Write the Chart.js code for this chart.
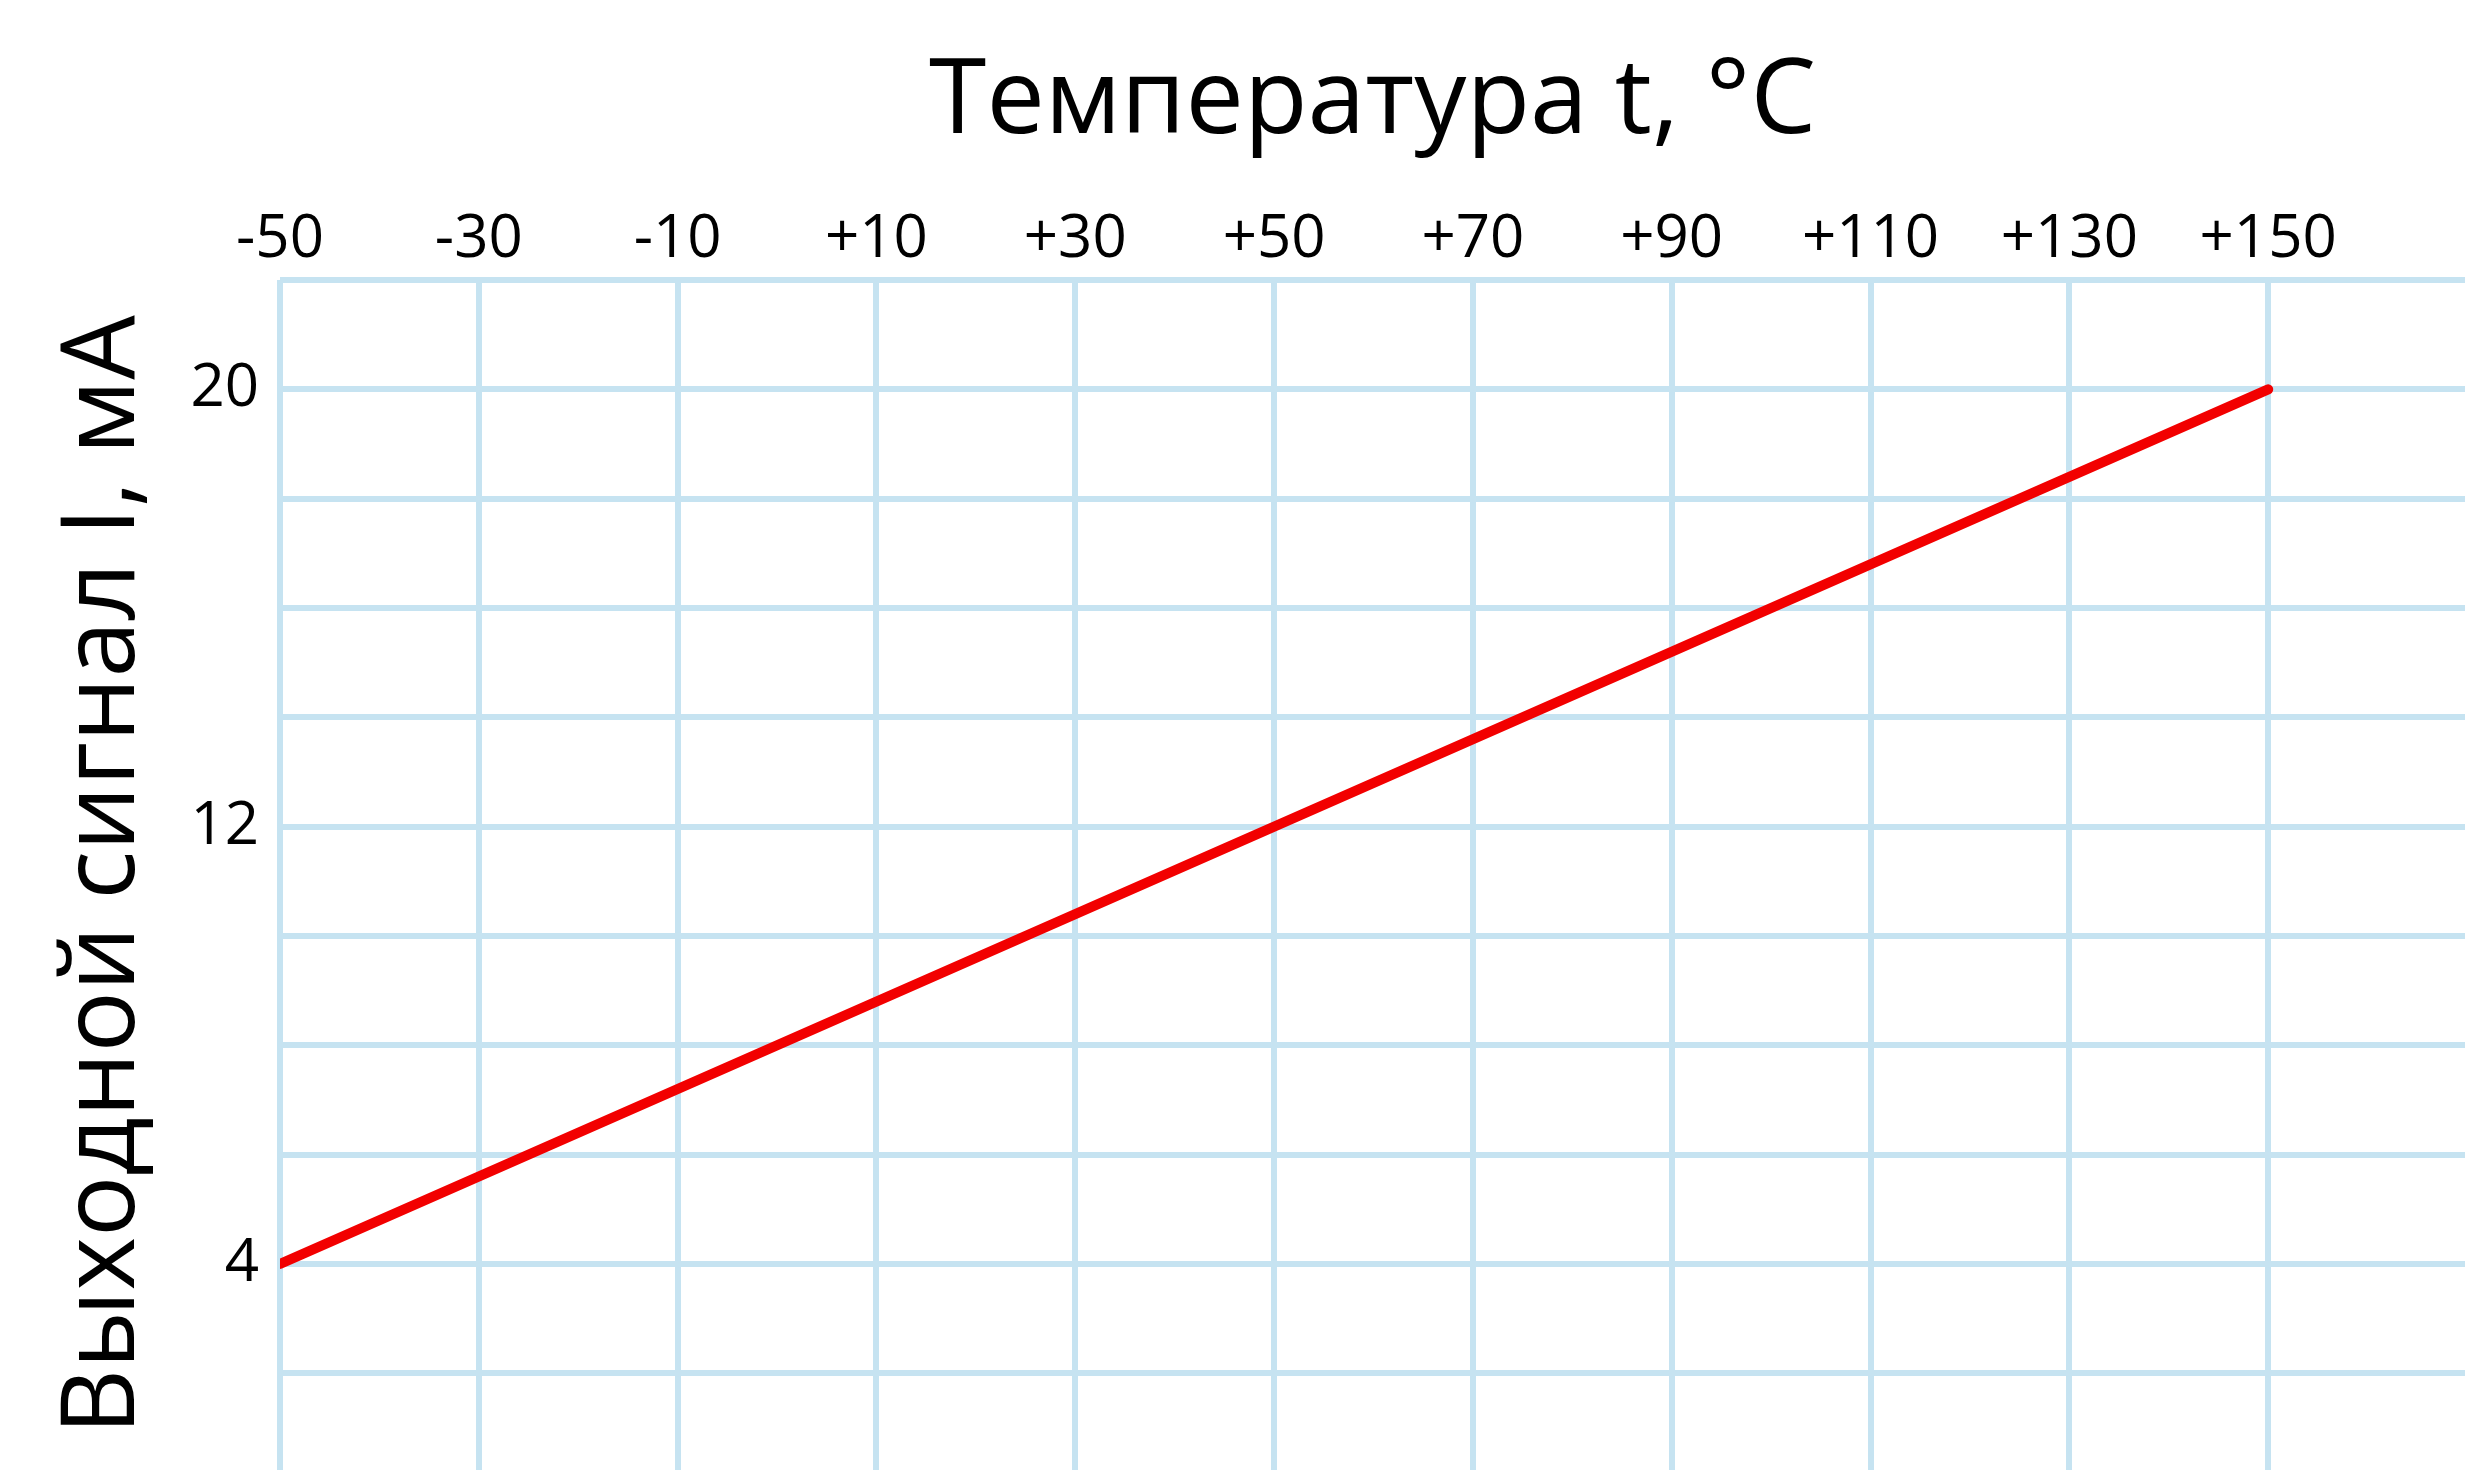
<!DOCTYPE html>
<html>
<head>
<meta charset="utf-8">
<script src="https://cdn.jsdelivr.net/npm/chart.js@4/dist/chart.umd.min.js"></script>
<style>
  html, body { margin: 0; padding: 0; background: #fff; }
  canvas { display: block; }
</style>
</head>
<body>
<canvas id="chart" width="2465" height="1470"></canvas>
<script>
// данные графика
const temperature = [-50, 150];
const current = [4, 20];
const xGrid = [-50, -30, -10, 10, 30, 50, 70, 90, 110, 130, 150];
const yGrid = [2, 4, 6, 8, 10, 12, 14, 16, 18, 20, 22];
const yLabels = [4, 12, 20];

const gridColor = '#c6e3f1';
const font = 'Open Sans';

const ctx = document.getElementById('chart').getContext('2d');

new Chart(ctx, {
  type: 'line',
  data: {
    datasets: [{
      data: temperature.map((t, i) => ({ x: t, y: current[i] })),
      borderColor: '#f20000',
      borderWidth: 10,
      borderCapStyle: 'round',
      pointRadius: 0,
      tension: 0
    }]
  },
  options: {
    responsive: false,
    animation: false,
    devicePixelRatio: 1,
    layout: { padding: 0 },
    plugins: {
      legend: { display: false },
      tooltip: { enabled: false }
    },
    scales: {
      x: {
        type: 'linear',
        position: 'top',
        min: -50,
        max: 169.8,
        afterBuildTicks: function (scale) {
          scale.ticks = xGrid.map(v => ({ value: v }));
        },
        afterFit: function (scale) {
          scale.height = 280;
          scale.paddingLeft = 0;
          scale.paddingRight = 0;
        },
        grid: { color: gridColor, lineWidth: 6, drawTicks: false },
        border: { display: false },
        ticks: {
          color: '#000',
          padding: 4,
          maxRotation: 0,
          font: { family: font, size: 60 },
          callback: v => (v > 0 ? '+' + v : '' + v)
        },
        title: {
          display: true,
          text: 'Температура t, °C',
          color: '#000',
          font: { family: font, size: 104, lineHeight: 1 },
          padding: { top: 51, bottom: 0 }
        }
      },
      y: {
        type: 'linear',
        min: 0.23,
        max: 22,
        afterBuildTicks: function (scale) {
          scale.ticks = yGrid.map(v => ({ value: v }));
        },
        afterFit: function (scale) {
          scale.width = 280;
          scale.paddingTop = 0;
          scale.paddingBottom = 0;
        },
        grid: { color: gridColor, lineWidth: 6, drawTicks: false },
        border: { display: false },
        ticks: {
          color: '#000',
          padding: 21,
          font: { family: font, size: 60 },
          callback: v => (yLabels.includes(v) ? '' + v : '')
        },
        title: {
          display: true,
          text: 'Выходной сигнал I, мА',
          color: '#000',
          font: { family: font, size: 102, lineHeight: 1 },
          padding: { top: 54, bottom: 0 }
        }
      }
    }
  }
});
</script>
</body>
</html>
